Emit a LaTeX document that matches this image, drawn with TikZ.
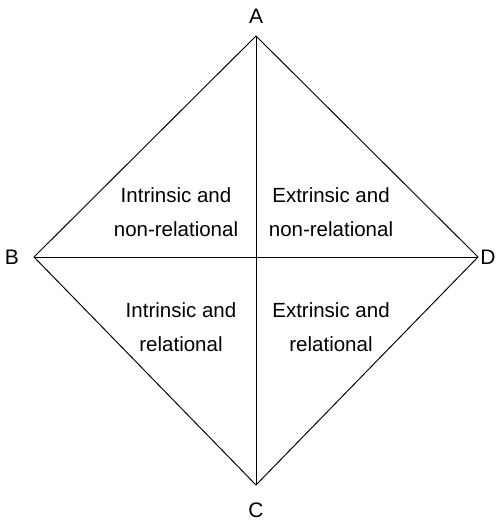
\documentclass[tikz,border=0pt]{standalone}
\usepackage{fontspec}
\setmainfont{Liberation Sans}
\usepackage{tikz}

\tikzset{
    quadtext/.style={align=center, font=\fontsize{20.5}{34}\selectfont, inner sep=0pt},
    cornerlabel/.style={font=\fontsize{21}{24}\selectfont, inner sep=0pt}
}

\begin{document}
\begin{tikzpicture}[x=1pt, y=-1pt, line width=0.95pt]
        \useasboundingbox (0,0) rectangle (497,524);

        \coordinate (A) at (256,36);
        \coordinate (B) at (34,257);
        \coordinate (C) at (256,485);
        \coordinate (D) at (478,257);

        \draw (A) -- (D) -- (C) -- (B) -- cycle;

        \draw (A) -- (C);
        \draw (B) -- (D);

        \draw (256,16) node[cornerlabel] (labA) {A};
        \draw (12,257) node[cornerlabel] (labB) {B};
        \draw (256,510) node[cornerlabel] (labC) {C};
        \draw (488,257) node[cornerlabel] (labD) {D};

        \draw (176,212) node[quadtext] (inr) {Intrinsic and\\non-relational};
        \draw (331,212) node[quadtext] (exnr) {Extrinsic and\\non-relational};
        \draw (181,327) node[quadtext] (inrel) {Intrinsic and\\relational};
        \draw (331,327) node[quadtext] (exrel) {Extrinsic and\\relational};
    \end{tikzpicture}
\end{document}
